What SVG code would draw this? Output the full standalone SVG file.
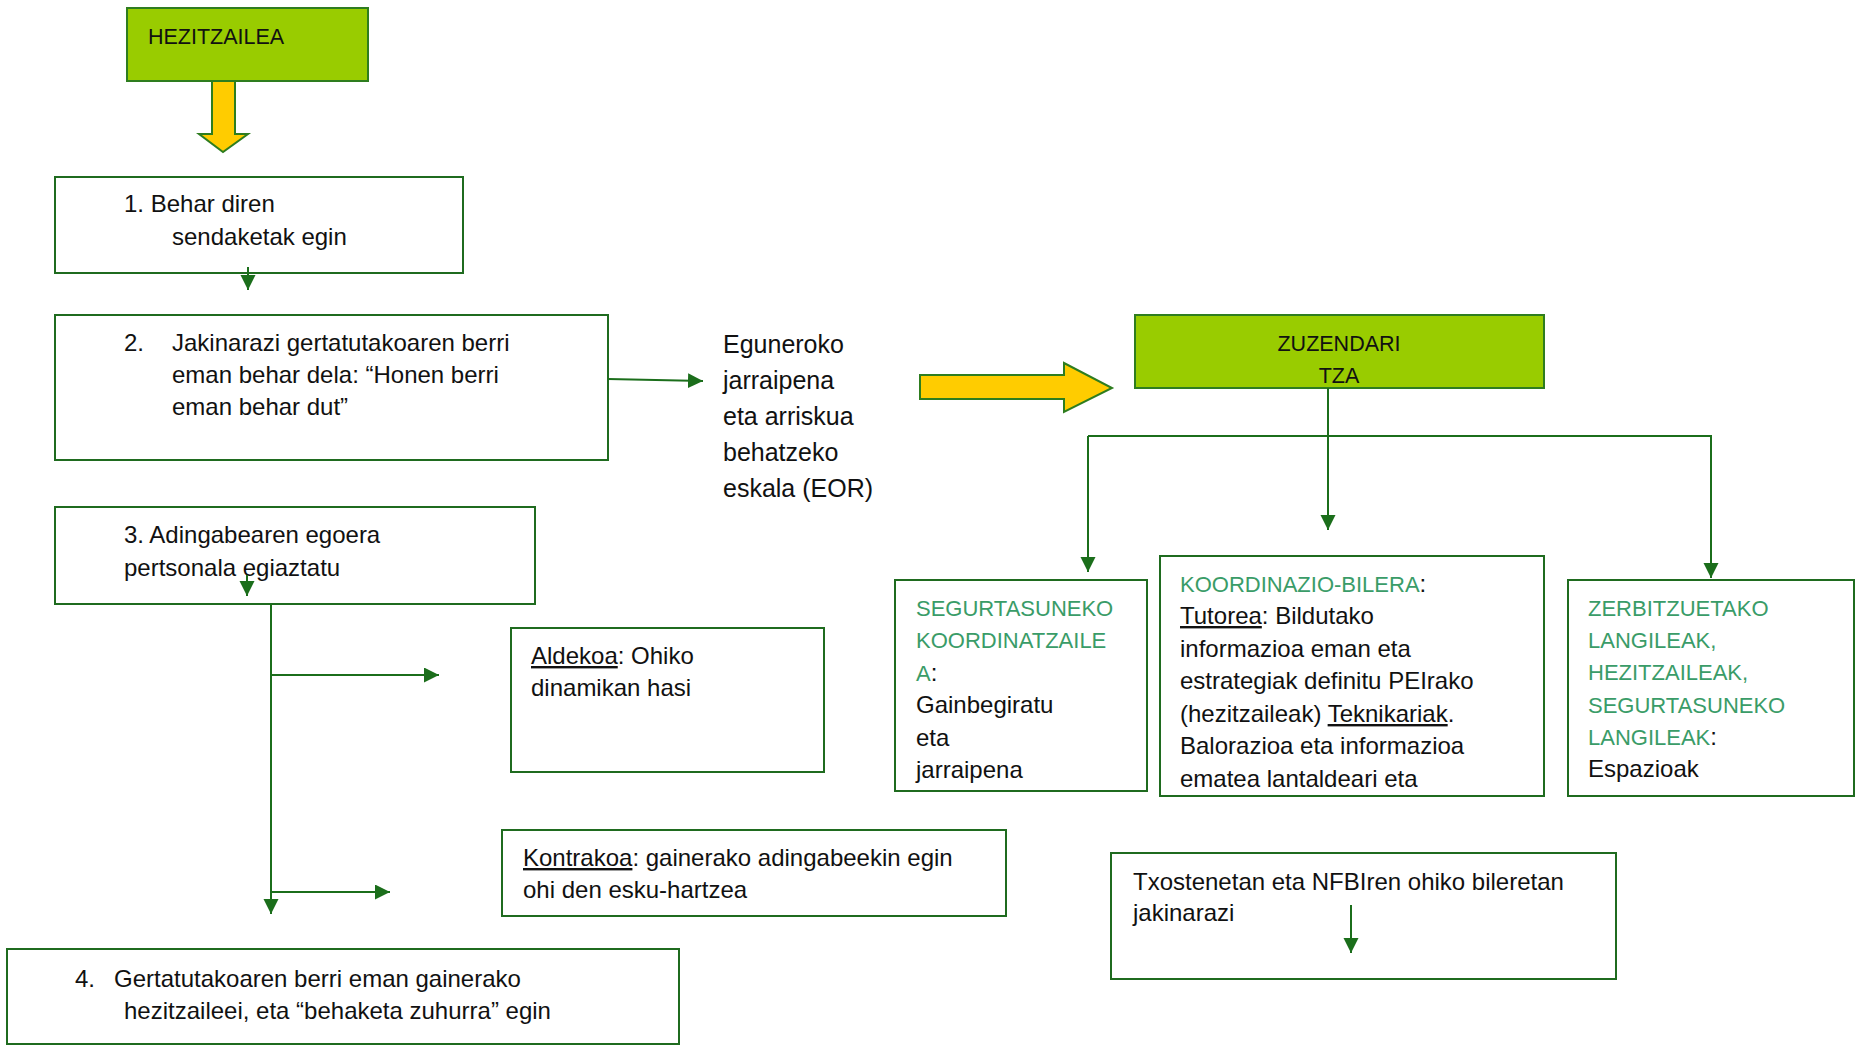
<svg xmlns="http://www.w3.org/2000/svg" width="1856" height="1045" viewBox="0 0 1856 1045">
  <style>
    .box { fill: #ffffff; stroke: #1f6b1f; stroke-width: 2; }
    .head { fill: #99cc00; stroke: #2e7d1f; stroke-width: 2; }
    .big { fill: #ffcc00; stroke: #2e7d1f; stroke-width: 2; stroke-linejoin: miter; }
    .t { font-family: "Liberation Sans", Arial, sans-serif; font-size: 24px; fill: #111111; }
    .ttl { font-family: "Liberation Sans", Arial, sans-serif; font-size: 21.5px; fill: #111111; }
    .eor { font-family: "Liberation Sans", Arial, sans-serif; font-size: 25px; fill: #111111; }
    .g { fill: #3a9c68; font-size: 22px; }
    .u { text-decoration: underline; }
    .conn { fill: none; stroke: #1b6e1b; stroke-width: 2; }
  </style>
  <defs>
    <marker id="arr" markerUnits="userSpaceOnUse" markerWidth="16" markerHeight="16" refX="15" refY="7.5" orient="auto">
      <path d="M0,0 L15,7.5 L0,15 z" fill="#1b6e1b"/>
    </marker>
  </defs>

  <rect width="1856" height="1045" fill="#ffffff"/>

  <!-- Top actor -->
  <g id="hezitzailea">
    <rect class="head" x="127" y="8" width="241" height="73"/>
    <text class="ttl" x="148" y="44">HEZITZAILEA</text>
  </g>
  <g id="arrow-down-big">
    <polygon class="big" points="212,81 235,81 235,134 248,134 223,152 199,134 212,134"/>
  </g>

  <!-- Step 1 -->
  <g id="step1">
    <rect class="box" x="55" y="177" width="408" height="96"/>
    <text class="t" x="124" y="212">1. Behar diren</text>
    <text class="t" x="172" y="245">sendaketak egin</text>
  </g>

  <!-- Step 2 -->
  <g id="step2">
    <rect class="box" x="55" y="315" width="553" height="145"/>
    <text class="t" x="124" y="351">2.</text>
    <text class="t" x="172" y="351">Jakinarazi gertatutakoaren berri</text>
    <text class="t" x="172" y="383">eman behar dela: “Honen berri</text>
    <text class="t" x="172" y="415">eman behar dut”</text>
  </g>

  <!-- Daily follow-up label -->
  <g id="eor">
    <text class="eor" x="723" y="353">Eguneroko</text>
    <text class="eor" x="723" y="389">jarraipena</text>
    <text class="eor" x="723" y="425">eta arriskua</text>
    <text class="eor" x="723" y="461">behatzeko</text>
    <text class="eor" x="723" y="497">eskala (EOR)</text>
  </g>
  <g id="arrow-right-big">
    <polygon class="big" points="920,375 1064,375 1064,363 1112,388 1064,412 1064,399 920,399"/>
  </g>

  <!-- Management -->
  <g id="zuzendaritza">
    <rect class="head" x="1135" y="315" width="409" height="73"/>
    <text class="ttl" x="1339" y="351" text-anchor="middle">ZUZENDARI</text>
    <text class="ttl" x="1339" y="383" text-anchor="middle">TZA</text>
  </g>

  <!-- Step 3 -->
  <g id="step3">
    <rect class="box" x="55" y="507" width="480" height="97"/>
    <text class="t" x="124" y="543">3. Adingabearen egoera</text>
    <text class="t" x="124" y="576">pertsonala egiaztatu</text>
  </g>

  <g id="aldekoa">
    <rect class="box" x="511" y="628" width="313" height="144"/>
    <text class="t" x="531" y="664"><tspan class="u">Aldekoa</tspan>: Ohiko</text>
    <text class="t" x="531" y="696">dinamikan hasi</text>
  </g>

  <g id="kontrakoa">
    <rect class="box" x="502" y="830" width="504" height="86"/>
    <text class="t" x="523" y="866"><tspan class="u">Kontrakoa</tspan>: gainerako adingabeekin egin</text>
    <text class="t" x="523" y="898">ohi den esku-hartzea</text>
  </g>

  <!-- Step 4 -->
  <g id="step4">
    <rect class="box" x="7" y="949" width="672" height="95"/>
    <text class="t" x="75" y="987">4.</text>
    <text class="t" x="114" y="987">Gertatutakoaren berri eman gainerako</text>
    <text class="t" x="124" y="1019">hezitzaileei, eta “behaketa zuhurra” egin</text>
  </g>

  <!-- Receivers -->
  <g id="segurtasun-koordinatzailea">
    <rect class="box" x="895" y="580" width="252" height="211"/>
    <text class="t" x="916" y="616"><tspan class="g">SEGURTASUNEKO</tspan></text>
    <text class="t" x="916" y="648"><tspan class="g">KOORDINATZAILE</tspan></text>
    <text class="t" x="916" y="681"><tspan class="g">A</tspan>:</text>
    <text class="t" x="916" y="713">Gainbegiratu</text>
    <text class="t" x="916" y="746">eta</text>
    <text class="t" x="916" y="778">jarraipena</text>
  </g>

  <g id="koordinazio-bilera">
    <rect class="box" x="1160" y="556" width="384" height="240"/>
    <text class="t" x="1180" y="592"><tspan class="g">KOORDINAZIO-BILERA</tspan>:</text>
    <text class="t" x="1180" y="624"><tspan class="u">Tutorea</tspan>: Bildutako</text>
    <text class="t" x="1180" y="657">informazioa eman eta</text>
    <text class="t" x="1180" y="689">estrategiak definitu PEIrako</text>
    <text class="t" x="1180" y="722">(hezitzaileak) <tspan class="u">Teknikariak</tspan>.</text>
    <text class="t" x="1180" y="754">Balorazioa eta informazioa</text>
    <text class="t" x="1180" y="787">ematea lantaldeari eta</text>
  </g>

  <g id="zerbitzuetako-langileak">
    <rect class="box" x="1568" y="580" width="286" height="216"/>
    <text class="t" x="1588" y="616"><tspan class="g">ZERBITZUETAKO</tspan></text>
    <text class="t" x="1588" y="648"><tspan class="g">LANGILEAK,</tspan></text>
    <text class="t" x="1588" y="680"><tspan class="g">HEZITZAILEAK,</tspan></text>
    <text class="t" x="1588" y="713"><tspan class="g">SEGURTASUNEKO</tspan></text>
    <text class="t" x="1588" y="745"><tspan class="g">LANGILEAK</tspan>:</text>
    <text class="t" x="1588" y="777">Espazioak</text>
  </g>

  <g id="txostenak">
    <rect class="box" x="1111" y="853" width="505" height="126"/>
    <text class="t" x="1133" y="890">Txostenetan eta NFBIren ohiko bileretan</text>
    <text class="t" x="1133" y="921">jakinarazi</text>
  </g>

  <!-- Connectors -->
  <g id="connectors">
    <path class="conn" d="M248,267 L248,290" marker-end="url(#arr)"/>
    <path class="conn" d="M608,379 L703,381" marker-end="url(#arr)"/>
    <path class="conn" d="M247,575 L247,596" marker-end="url(#arr)"/>
    <path class="conn" d="M271,604 L271,914" marker-end="url(#arr)"/>
    <path class="conn" d="M271,675 L439,675" marker-end="url(#arr)"/>
    <path class="conn" d="M271,892 L390,892" marker-end="url(#arr)"/>
    <path class="conn" d="M1328,388 L1328,530" marker-end="url(#arr)"/>
    <path class="conn" d="M1088,436 L1088,572" marker-end="url(#arr)"/>
    <path class="conn" d="M1088,436 L1711,436 L1711,578" marker-end="url(#arr)"/>
    <path class="conn" d="M1351,905 L1351,953" marker-end="url(#arr)"/>
  </g>
</svg>
